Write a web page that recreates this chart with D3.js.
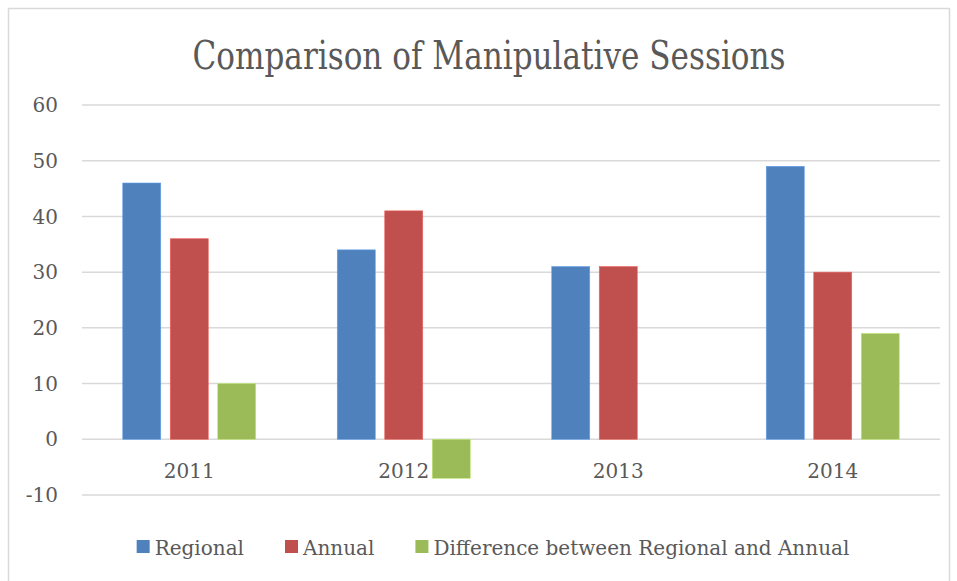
<!DOCTYPE html>
<html>
<head>
<meta charset="utf-8">
<script src="https://cdn.jsdelivr.net/npm/d3@7"></script>
<style>
  body { margin: 0; background: #fff; }
  text { font-family: "DejaVu Serif", "Liberation Serif", serif; fill: #595959; }
</style>
</head>
<body>
<svg id="chart" width="957" height="581"></svg>
<script>
const years = ["2011", "2012", "2013", "2014"];
const seriesNames = ["Regional", "Annual", "Difference between Regional and Annual"];
const regional = [46, 34, 31, 49];
const annual = [36, 41, 31, 30];
const difference = [10, -7, 0, 19];
const yTicks = [-10, 0, 10, 20, 30, 40, 50, 60];
const colors = ["#4f81bd", "#c0504d", "#9bbb59"];

const svg = d3.select("#chart");
const width = +svg.attr("width");
const height = +svg.attr("height");
const margin = { top: 105, right: 17, bottom: 86, left: 82 };

// outer chart border
svg.append("rect")
  .attr("x", 8.5).attr("y", 8.5)
  .attr("width", width - 16).attr("height", height)
  .attr("fill", "none").attr("stroke", "#d9d9d9").attr("stroke-width", 1.5);

svg.append("text")
  .attr("x", 489).attr("y", 69)
  .attr("text-anchor", "middle")
  .attr("font-family", "'DejaVu Serif Condensed', 'DejaVu Serif', serif")
  .attr("font-size", 39)
  .attr("textLength", 593).attr("lengthAdjust", "spacingAndGlyphs")
  .text("Comparison of Manipulative Sessions");

const x = d3.scaleBand().domain(years).range([margin.left, width - margin.right]);
const x1 = d3.scaleBand().domain(d3.range(3)).range([x.bandwidth() * 0.19, x.bandwidth() * 0.81]).paddingInner(0.2);
const y = d3.scaleLinear().domain([-10, 60]).range([height - margin.bottom, margin.top]);

// gridlines
svg.append("g")
  .selectAll("line")
  .data(yTicks)
  .join("line")
  .attr("x1", margin.left).attr("x2", width - margin.right)
  .attr("y1", d => y(d)).attr("y2", d => y(d))
  .attr("stroke", "#d9d9d9").attr("stroke-width", 1.5);

// y tick labels
svg.append("g")
  .selectAll("text")
  .data(yTicks)
  .join("text")
  .attr("x", 58).attr("y", d => y(d))
  .attr("dy", "0.36em")
  .attr("text-anchor", "end")
  .attr("font-size", 20)
  .text(d => d);

const rows = years.map((yr, i) => ({ year: yr, values: [regional[i], annual[i], difference[i]] }));

const groups = svg.append("g")
  .selectAll("g")
  .data(rows)
  .join("g")
  .attr("transform", d => `translate(${x(d.year)},0)`);

groups.selectAll("rect")
  .data(d => d.values.map((v, k) => ({ v, k })))
  .join("rect")
  .attr("x", d => x1(d.k))
  .attr("width", x1.bandwidth())
  .attr("y", d => y(Math.max(0, d.v)))
  .attr("height", d => Math.abs(y(d.v) - y(0)))
  .attr("fill", d => colors[d.k])
  .attr("stroke", d => d3.color(colors[d.k]).brighter(0.6))
  .attr("stroke-width", 0.6);

// x category labels
svg.append("g")
  .selectAll("text")
  .data(years)
  .join("text")
  .attr("x", d => x(d) + x.bandwidth() / 2)
  .attr("y", 478)
  .attr("text-anchor", "middle")
  .attr("font-size", 20)
  .text(d => d);

// legend
const legend = svg.append("g");
const items = legend.selectAll("g")
  .data(seriesNames)
  .join("g");
items.append("rect")
  .attr("width", 13).attr("height", 13)
  .attr("y", 540)
  .attr("fill", (d, i) => colors[i]);
items.append("text")
  .attr("x", 18).attr("y", 555)
  .attr("font-size", 20)
  .text(d => d);

const gap = 41;
items.each(function () {
  const w = 18 + d3.select(this).select("text").node().getComputedTextLength();
  d3.select(this).attr("data-w", w);
});
const total = d3.sum(items.nodes(), n => +n.getAttribute("data-w")) + gap * (seriesNames.length - 1);
let cx = 137 + (712 - total) / 2;
items.each(function () {
  d3.select(this).attr("transform", `translate(${cx},0)`);
  cx += +this.getAttribute("data-w") + gap;
});
</script>
</body>
</html>
